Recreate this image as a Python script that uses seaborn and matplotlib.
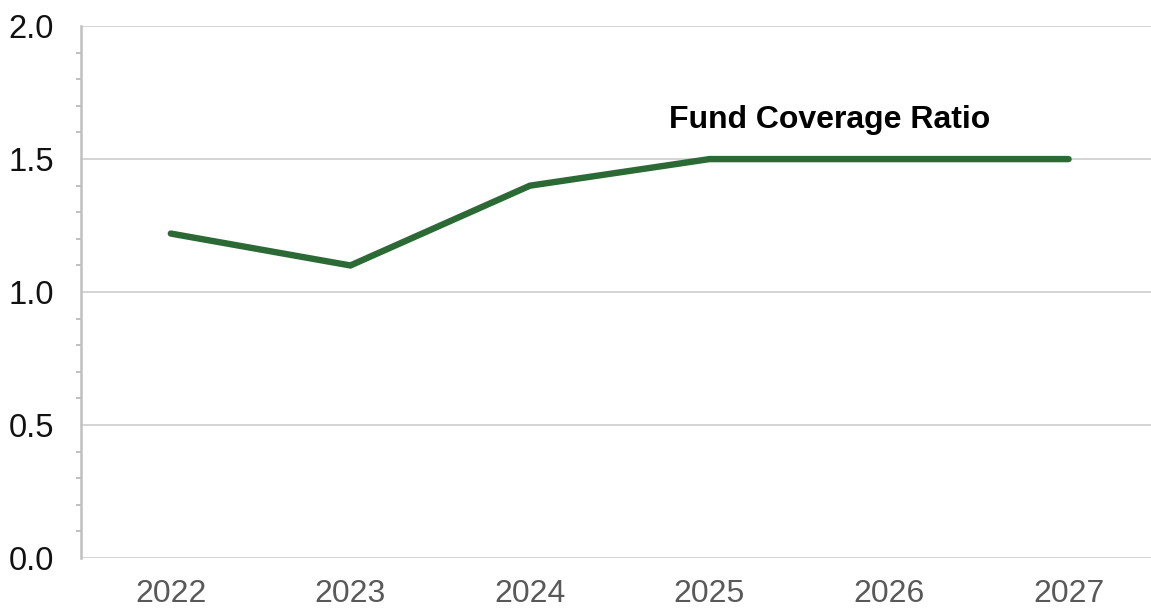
import matplotlib
matplotlib.use("Agg")
import matplotlib.pyplot as plt
from matplotlib.ticker import MultipleLocator
import seaborn as sns
import pandas as pd

years = ["2022", "2023", "2024", "2025", "2026", "2027"]
coverage = [1.22, 1.10, 1.40, 1.50, 1.50, 1.50]
series_label = "Fund Coverage Ratio"
y_ticks = [0.0, 0.5, 1.0, 1.5, 2.0]

df = pd.DataFrame({"year": years, "ratio": coverage})

sns.set_theme(style="white")
plt.rcParams["font.family"] = ["Liberation Sans", "DejaVu Sans"]

fig = plt.figure(figsize=(11.51, 6.10), dpi=100)
ax = fig.add_axes([0.0704, 0.0852, 0.936, 0.872])

sns.lineplot(data=df, x="year", y="ratio", ax=ax, color="#2b6a34",
             linewidth=4.6, solid_capstyle="round", solid_joinstyle="miter",
             sort=False)

ax.set_xlim(-0.5, len(years) - 0.5)
ax.set_ylim(0, 2.0)
ax.set_yticks(y_ticks)
ax.set_yticklabels([f"{v:.1f}" for v in y_ticks])
ax.yaxis.set_minor_locator(MultipleLocator(0.1))

ax.grid(axis="y", which="major", color="#d4d4d4", linewidth=1.4, linestyle="-")
ax.set_axisbelow(True)

for side in ["top", "right", "bottom"]:
    ax.spines[side].set_visible(False)
ax.spines["left"].set_color("#c0c0c0")
ax.spines["left"].set_linewidth(1.8)

ax.tick_params(axis="y", which="major", direction="inout", length=13, width=1.8,
               color="#c0c0c0", labelsize=23.5, labelcolor="#111111", pad=13)
ax.tick_params(axis="y", which="minor", direction="out", length=3.5, width=1.4,
               color="#c0c0c0", left=True)
ax.tick_params(axis="x", length=0, labelsize=23, labelcolor="#595959", pad=15)

ax.set_xlabel("")
ax.set_ylabel("")

ax.text(3.67, 1.646, series_label, ha="center", va="center",
        fontsize=23, fontweight="bold", color="#000000")

fig.savefig("out.png", dpi=100)
